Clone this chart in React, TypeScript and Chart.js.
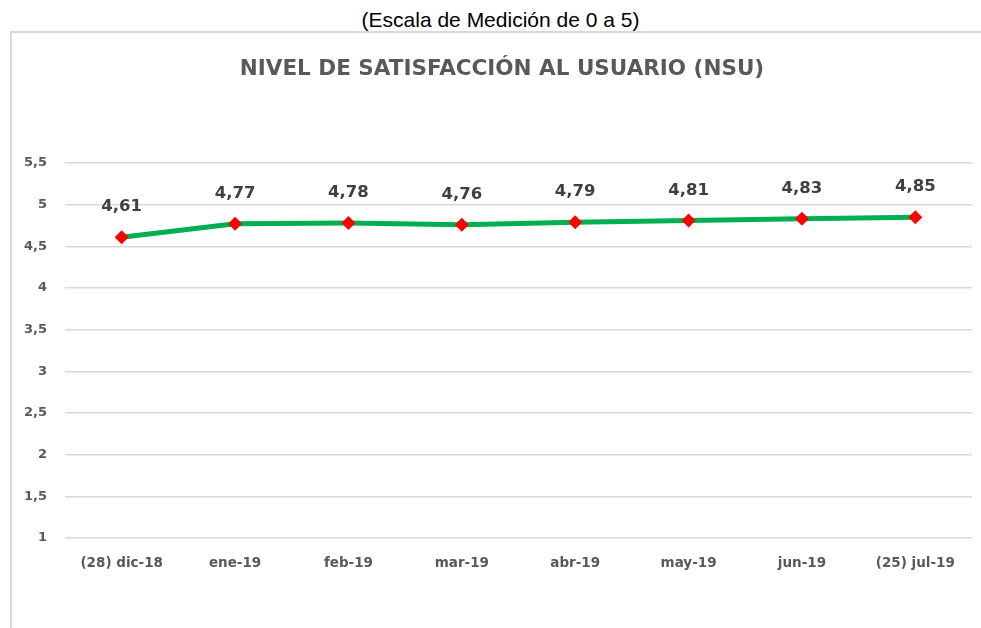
import React, { useEffect, useRef } from "react";
import { Chart, registerables } from "chart.js";

Chart.register(...registerables);

const categories = [
  "(28) dic-18",
  "ene-19",
  "feb-19",
  "mar-19",
  "abr-19",
  "may-19",
  "jun-19",
  "(25) jul-19",
];
const nsuValues = [4.61, 4.77, 4.78, 4.76, 4.79, 4.81, 4.83, 4.85];
const chartTitle = "NIVEL DE SATISFACCIÓN AL USUARIO (NSU)";
const subtitle = "(Escala de Medición de 0 a 5)";

const fmt = (v: number) => String(v).replace(".", ",");

const dataLabelPlugin = {
  id: "dataLabels",
  afterDatasetsDraw(chart: any) {
    const ctx = chart.ctx;
    const meta = chart.getDatasetMeta(0);
    ctx.save();
    ctx.font = "bold 16.5px 'DejaVu Sans'";
    ctx.fillStyle = "#404040";
    ctx.textAlign = "center";
    ctx.textBaseline = "middle";
    meta.data.forEach((pt: any, i: number) => {
      ctx.fillText(nsuValues[i].toFixed(2).replace(".", ","), pt.x, pt.y - 30);
    });
    ctx.restore();
  },
};

export default function App() {
  const ref = useRef<HTMLCanvasElement>(null);
  useEffect(() => {
    if (!ref.current) return;
    const chart = new Chart(ref.current, {
      type: "line",
      data: {
        labels: categories,
        datasets: [
          {
            data: nsuValues,
            borderColor: "#00b050",
            borderWidth: 5,
            pointStyle: "rectRot",
            pointRadius: 7,
            pointBackgroundColor: "#ff0000",
            pointBorderColor: "#ff0000",
            pointBorderWidth: 0,
            tension: 0,
          },
        ],
      },
      options: {
        responsive: false,
        animation: false,
        layout: { padding: { left: 0, right: 9, top: 163, bottom: 0 } },
        plugins: {
          legend: { display: false },
          tooltip: { enabled: false },
          title: { display: false },
        },
        scales: {
          x: {
            offset: true,
            grid: { display: false, drawTicks: false, offset: true },
            border: { display: false },
            ticks: {
              color: "#595959",
              font: { family: "'DejaVu Sans'", size: 13.5, weight: "bold" },
              padding: 17,
              maxRotation: 0,
              autoSkip: false,
            },
            afterFit: (s: any) => {
              s.height = 90;
            },
          },
          y: {
            min: 1,
            max: 5.5,
            grid: { color: "#d9d9d9", lineWidth: 1.5, drawTicks: false },
            border: { display: false },
            ticks: {
              stepSize: 0.5,
              color: "#595959",
              font: { family: "'DejaVu Sans'", size: 13, weight: "bold" },
              padding: 18,
              callback: (v: any) => fmt(v),
            },
            afterFit: (s: any) => {
              s.width = 65;
            },
          },
        },
      },
      plugins: [dataLabelPlugin],
    });
    return () => chart.destroy();
  }, []);

  return (
    <div style={{ position: "absolute", left: 0, top: 0, width: 981, height: 628, overflow: "hidden", background: "#fff" }}>
      <div
        style={{
          position: "absolute",
          left: 10,
          top: 31,
          width: 990,
          height: 700,
          border: "2px solid #d9d9d9",
          boxSizing: "border-box",
        }}
      />
      <div
        style={{
          position: "absolute",
          left: 0,
          top: 7,
          width: 1001,
          textAlign: "center",
          fontFamily: "'Liberation Sans Narrow', 'Liberation Sans', sans-serif",
          fontSize: 21,
          lineHeight: "26px",
          color: "#000",
        }}
      >
        {subtitle}
      </div>
      <canvas ref={ref} width={981} height={628} style={{ position: "absolute", left: 0, top: 0 }} />
      <div
        style={{
          position: "absolute",
          left: 0,
          top: 55,
          width: 1004,
          textAlign: "center",
          fontFamily: "'DejaVu Sans', sans-serif",
          fontWeight: "bold",
          fontSize: 21.5,
          lineHeight: "26px",
          color: "#595959",
          whiteSpace: "nowrap",
        }}
      >
        {chartTitle}
      </div>
    </div>
  );
}
